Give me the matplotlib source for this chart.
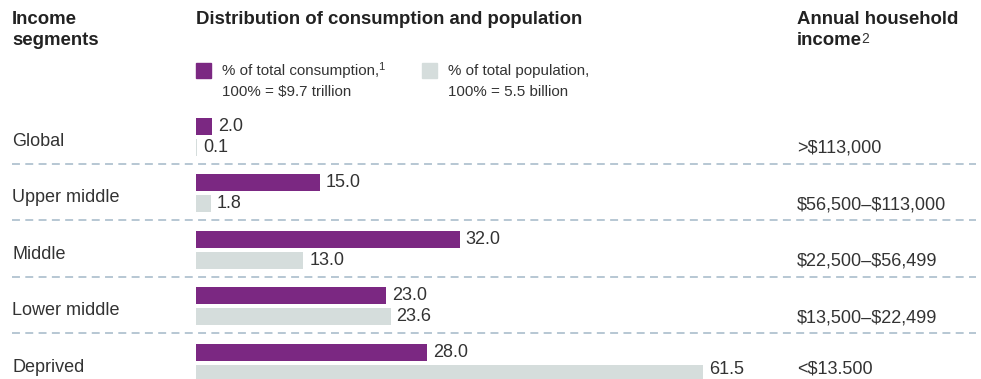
import matplotlib
matplotlib.use("Agg")
import matplotlib.pyplot as plt

plt.rcParams["text.parse_math"] = False

segments = ["Global", "Upper middle", "Middle", "Lower middle", "Deprived"]
consumption = [2.0, 15.0, 32.0, 23.0, 28.0]
population = [0.1, 1.8, 13.0, 23.6, 61.5]
income = [">$113,000", "$56,500–$113,000", "$22,500–$56,499", "$13,500–$22,499", "<$13.500"]

PURPLE = "#7b2882"
GREY = "#d5dddc"
TXT = "#333333"
DASH = "#a3b8c8"
FONT = "Liberation Sans"

W, H = 981, 379
fig = plt.figure(figsize=(W / 100, H / 100), dpi=100)
ax = fig.add_axes([0, 0, 1, 1])
ax.set_axis_off()

# pixel mapping: x0 = 196 px, 8.245 px per unit; row pitch 56.5 px, first row center at 136.75 px
pxu = 8.245
ax.set_xlim(-196 / pxu, (W - 196) / pxu)
ax.set_ylim((H - 136.75) / 56.5, -136.75 / 56.5)

rows = list(range(len(segments)))
off = 0.182
bh = 0.30
ax.barh([r - off for r in rows], consumption, height=bh, color=PURPLE, left=0)
ax.barh([r + off for r in rows], population, height=bh, color=GREY, left=0)

ymax_data = (369 - 136.75) / 56.5  # keep bottom labels inside the picture

for r, v in zip(rows, consumption):
    ax.annotate(f"{v:.1f}", xy=(v, r - off), xytext=(6, 0), textcoords="offset pixels",
                va="center", ha="left", fontsize=13, color=TXT, family=FONT)
for r, v in zip(rows, population):
    ax.annotate(f"{v:.1f}", xy=(v, min(r + off, ymax_data)), xytext=(6, 0), textcoords="offset pixels",
                va="center", ha="left", fontsize=13, color=TXT, family=FONT)

for r in rows[:-1]:
    ax.axhline(r + 0.475, color=DASH, lw=1.1, dashes=(5.2, 3.5), xmin=12 / W, xmax=976 / W)

def fx(px):
    return px / W

def fy(py):
    return 1 - py / H

for r, s in zip(rows, segments):
    ax.text(fx(12), fy(136.75 + 56.5 * r + 4.5), s, transform=fig.transFigure,
            va="center", ha="left", fontsize=13, color=TXT, family=FONT)
for r, s in zip(rows, income):
    yc = min(136.75 + 56.5 * r + off * 56.5 + 1, 369)
    ax.text(fx(797), fy(yc), s, transform=fig.transFigure,
            va="center", ha="left", fontsize=13, color=TXT, family=FONT)

# headers
HB = dict(transform=fig.transFigure, va="top", ha="left", fontsize=13.4,
          fontweight="bold", color="#222222", family=FONT)
ax.text(fx(12), fy(11), "Income", **HB)
ax.text(fx(12), fy(32), "segments", **HB)
ax.text(fx(196), fy(11), "Distribution of consumption and population", **HB)
ax.text(fx(797), fy(11), "Annual household", **HB)
t_inc = ax.text(fx(797), fy(32), "income", **HB)
ax.annotate("2", xy=(1, 1), xycoords=t_inc, xytext=(-1, 0), textcoords="offset pixels",
            va="top", ha="left", fontsize=10, color=TXT, family=FONT)

# legend
ax.add_patch(plt.Rectangle((fx(196), fy(78)), 15 / W, 15 / H, transform=fig.transFigure,
                           color=PURPLE, clip_on=False))
ax.add_patch(plt.Rectangle((fx(422), fy(78)), 15 / W, 15 / H, transform=fig.transFigure,
                           color=GREY, clip_on=False))
LT = dict(transform=fig.transFigure, va="center", ha="left", fontsize=10.9, color=TXT, family=FONT)
t_leg = ax.text(fx(222), fy(71), "% of total consumption,", **LT)
ax.annotate("1", xy=(1, 1), xycoords=t_leg, xytext=(-1, 2), textcoords="offset pixels",
            va="top", ha="left", fontsize=8, color=TXT, family=FONT)
ax.text(fx(222), fy(92), "100% = $9.7 trillion", **LT)
ax.text(fx(448), fy(71), "% of total population,", **LT)
ax.text(fx(448), fy(92), "100% = 5.5 billion", **LT)

fig.savefig("out.png", dpi=100)
